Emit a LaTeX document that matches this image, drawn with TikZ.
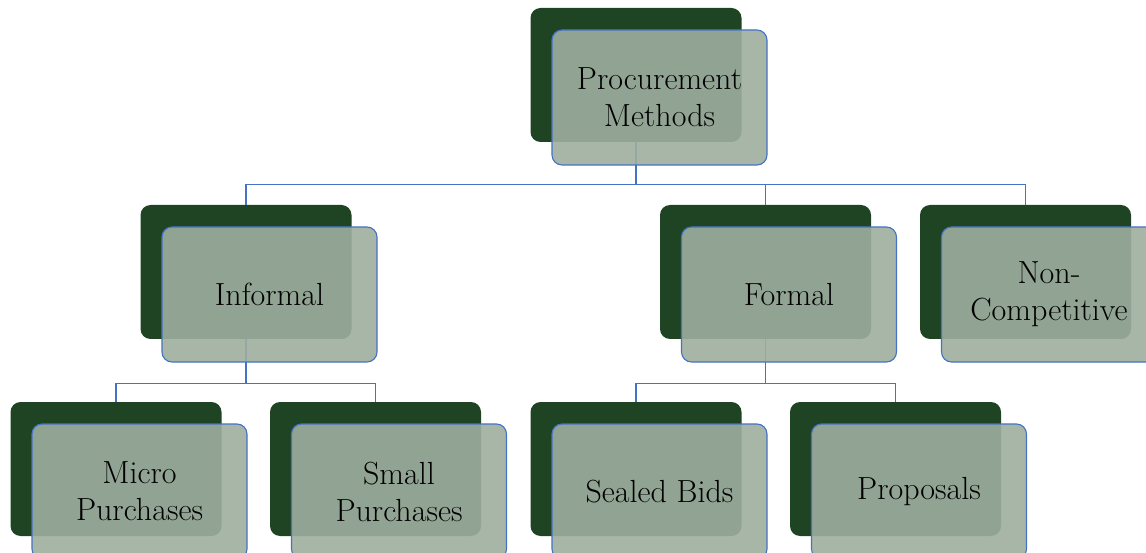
\documentclass[tikz,border=0pt]{standalone}
\usepackage{tikz}
\usetikzlibrary{positioning}
\definecolor{darkG}{RGB}{31,68,36}
\definecolor{sageG}{RGB}{158,174,158}
\definecolor{edgeB}{RGB}{68,114,196}
\tikzstyle{backNode} = [rectangle, minimum width=211pt, minimum height=134pt, rounded corners=10pt, fill=darkG, inner sep=0pt]
\tikzstyle{frontNode} = [rectangle, minimum width=215pt, minimum height=135pt, rounded corners=10pt, draw=edgeB, line width=1.1pt, fill=sageG, fill opacity=0.9, text opacity=1, inner sep=0pt, align=center, font=\fontsize{32}{37}\selectfont]
\tikzstyle{link} = [draw=edgeB, line width=1.1pt]

\begin{document}
\begin{tikzpicture}[node distance=197pt]
        \clip (0,0) rectangle (1146pt,-553pt);
        % back boxes
        \node (procB) [backNode] at (636pt,-75pt) {};
        \node (infB) [backNode, below of=procB, xshift=-390pt] {};
        \node (formB) [backNode, below of=procB, xshift=129.5pt] {};
        \node (nonB) [backNode, below of=procB, xshift=389.5pt] {};
        \node (microB) [backNode, below of=infB, xshift=-130pt] {};
        \node (smallB) [backNode, below of=infB, xshift=129.5pt] {};
        \node (sealB) [backNode, below of=formB, xshift=-129.5pt] {};
        \node (propB) [backNode, below of=formB, xshift=130pt] {};

        % connectors
        \draw [link] (procB.south) -- ++(0,-42pt) -| (infB.north);
        \draw [link] (procB.south) -- ++(0,-42pt) -| (formB.north);
        \draw [link] (procB.south) -- ++(0,-42pt) -| (nonB.north);
        \draw [link] (infB.south) -- ++(0,-44pt) -| (microB.north);
        \draw [link] (infB.south) -- ++(0,-44pt) -| (smallB.north);
        \draw [link] (formB.south) -- ++(0,-44pt) -| (sealB.north);
        \draw [link] (formB.south) -- ++(0,-44pt) -| (propB.north);

        % front boxes
        \node (proc) [frontNode] at ([shift={(23.5pt,-22.5pt)}]procB.center) {Procurement\\Methods};
        \node (inf) [frontNode] at ([shift={(23.5pt,-22.5pt)}]infB.center) {Informal};
        \node (form) [frontNode] at ([shift={(23.5pt,-22.5pt)}]formB.center) {Formal};
        \node (non) [frontNode] at ([shift={(23.5pt,-22.5pt)}]nonB.center) {Non-\\Competitive};
        \node (micro) [frontNode] at ([shift={(23.5pt,-22.5pt)}]microB.center) {Micro\\Purchases};
        \node (small) [frontNode] at ([shift={(23.5pt,-22.5pt)}]smallB.center) {Small\\Purchases};
        \node (seal) [frontNode] at ([shift={(23.5pt,-22.5pt)}]sealB.center) {Sealed Bids};
        \node (prop) [frontNode] at ([shift={(23.5pt,-22.5pt)}]propB.center) {Proposals};
    \end{tikzpicture}
\end{document}
